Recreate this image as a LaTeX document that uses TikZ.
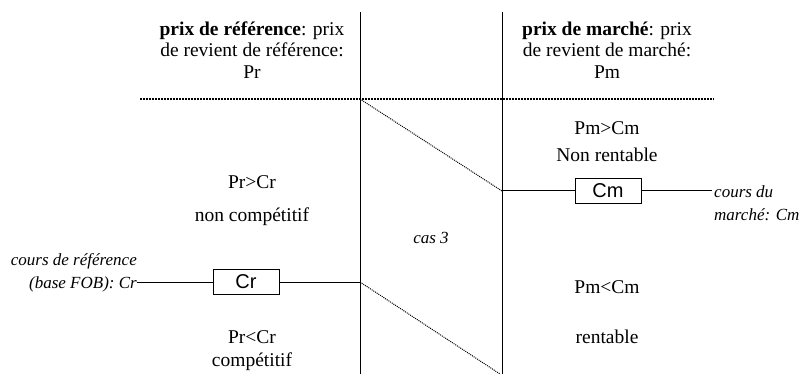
\documentclass[tikz,border=0pt]{standalone}
\usepackage{fontspec}
\setmainfont{Liberation Serif}
\newfontfamily\boxfont{Liberation Sans}
\usetikzlibrary{positioning}

\begin{document}
\begin{tikzpicture}[
    x=1pt, y=-1pt,
    label/.style={align=center, inner sep=0pt, font=\fontsize{19.5}{21.5}\selectfont},
    note/.style={inner sep=0pt, font=\fontsize{17}{23}\selectfont\itshape},
    price/.style={rectangle, draw, thick, minimum width=66pt, minimum height=25pt, inner sep=0pt, fill=white, font=\boxfont\fontsize{20}{22}\selectfont},
    axis/.style={line width=1pt},
    boundary/.style={line width=1.8pt, dash pattern=on 1.6pt off 1.4pt},
    link/.style={line width=1pt, dash pattern=on 1pt off 1pt}
]
\useasboundingbox (0,0) rectangle (808,374);

% Nodes
\node (headRef) [label] at (252,50) {\textbf{prix de référence}: prix\\de revient de référence:\\Pr};
\node (headMar) [label] at (607,50) {\textbf{prix de marché}: prix\\de revient de marché:\\Pm};
\node (refHigh) [label] at (252,182) {Pr>Cr};
\node (refNon) [label] at (252,217) {non compétitif};
\node (refLow) [label] at (252,337) {Pr<Cr};
\node (refOk) [label] at (252,362) {compétitif};
\node (marHigh) [label] at (607,128) {Pm>Cm};
\node (marNon) [label] at (607,155) {Non rentable};
\node (marLow) [label] at (607,287) {Pm<Cm};
\node (marOk) [label] at (607,337) {rentable};
\node (cas) [note] at (431,238) {cas 3};
\node (crNote) [note, align=right, anchor=east] at (137,273) {cours de référence\\(base FOB): Cr};
\node (cmNote) [note, align=left, anchor=west] at (714,203) {cours du\\marché: Cm};

\coordinate (refTop) at (360,12);
\coordinate (refBot) at (360,374);
\coordinate (marTop) at (502,12);
\coordinate (marBot) at (502,374);
\coordinate (lineL) at (140,99);
\coordinate (lineR) at (714,99);
\coordinate (refCut) at (360,99);
\coordinate (refMid) at (360,282);
\coordinate (marMid) at (502,191);
\coordinate (marEnd) at (500,374);
\coordinate (crEnd) at (crNote.east |- refMid);
\coordinate (cmEnd) at (712,191);

% Connections
\draw [axis] (refTop) -- (refBot);
\draw [axis] (marTop) -- (marBot);
\draw [boundary] (lineL) -- (lineR);
\draw [link] (refCut) -- (marMid);
\draw [link] (refMid) -- (marEnd);
\draw [axis] (crEnd) -- (refMid);
\draw [axis] (marMid) -- (cmEnd);
\node (cr) [price] at (246,282) {Cr};
\node (cm) [price] at (608,191) {Cm};

\end{tikzpicture}
\end{document}
